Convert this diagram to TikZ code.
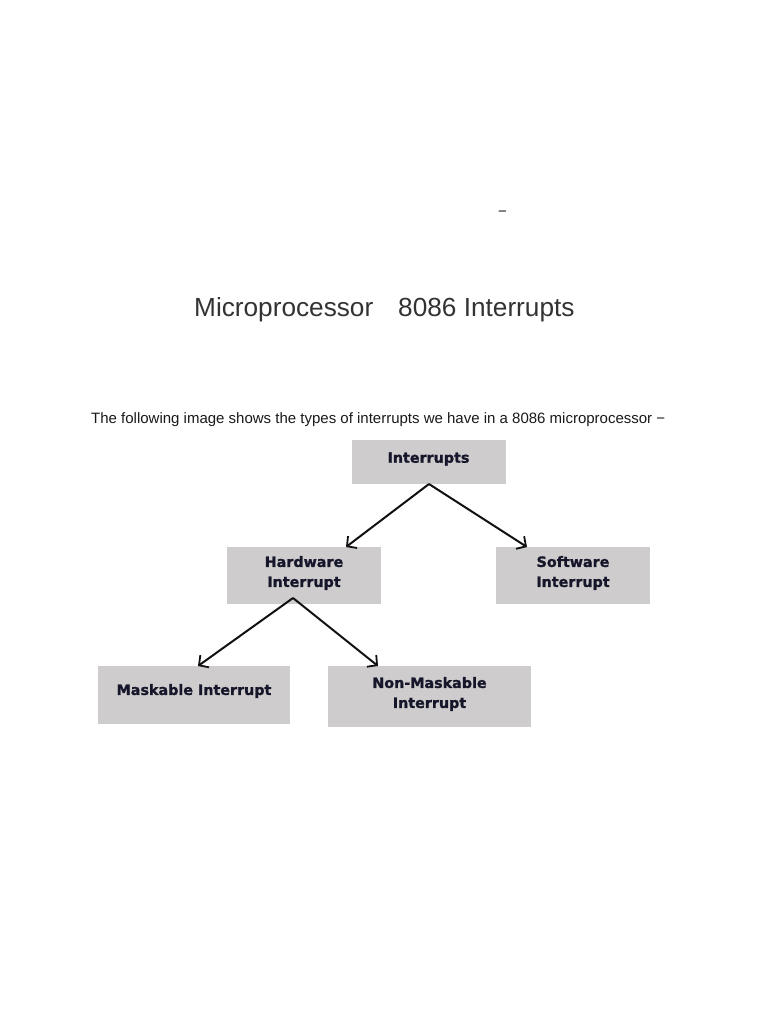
\documentclass[tikz,border=0pt]{standalone}
\usepackage{fontspec}
\setmainfont{Liberation Sans}
\newfontfamily\boxfont{DejaVu Sans}[BoldFeatures={FakeBold=1.2}]
\usetikzlibrary{arrows.meta}
\definecolor{boxgray}{HTML}{CECCCD}
\definecolor{boxtext}{HTML}{16162A}
\definecolor{titlegray}{HTML}{333333}
\definecolor{bodyblack}{HTML}{1A1A1A}
\definecolor{arrowblack}{HTML}{111111}
\begin{document}
\begin{tikzpicture}[x=1pt,y=-1pt,
  graybox/.style={rectangle, fill=boxgray, draw=none, inner sep=0pt},
  boxlabel/.style={inner sep=0pt, align=center, text=boxtext,
    font=\boxfont\bfseries\fontsize{14.3}{20}\selectfont},
  treearrow/.style={draw=arrowblack, line width=2pt,
    -{Straight Barb[length=7pt,width=15pt,line width=1.8pt]}}
]
\useasboundingbox[fill=white] (0,0) rectangle (768,1024);

% texts
\node[inner sep=0pt, anchor=center, text=bodyblack, font=\fontsize{15}{18}\selectfont] (dash) at (502.5,214) {−};
\node[inner sep=0pt, anchor=base west, text=titlegray, font=\fontsize{26.2}{30}\selectfont] (title) at (194,316) {Microprocessor\hspace{25pt}8086 Interrupts};
\node[inner sep=0pt, anchor=base west, text=bodyblack, font=\fontsize{15}{18}\selectfont] (intro) at (91,423) {The following image shows the types of interrupts we have in a 8086 microprocessor −};

% boxes
\node[graybox, minimum width=154pt, minimum height=44pt] (root) at (428.5,462) {};
\node[graybox, minimum width=154pt, minimum height=57pt] (hw) at (304,575.5) {};
\node[graybox, minimum width=154pt, minimum height=57pt] (sw) at (573,575.5) {};
\node[graybox, minimum width=192pt, minimum height=58pt] (mask) at (194,695) {};
\node[graybox, minimum width=203pt, minimum height=61pt] (nmask) at (429.5,696.5) {};

% box labels
\node[boxlabel] (rootT) at (428.5,459) {Interrupts};
\node[boxlabel] (hwT) at (304,573) {Hardware\\Interrupt};
\node[boxlabel] (swT) at (573,573) {Software\\Interrupt};
\node[boxlabel] (maskT) at (194,691) {Maskable Interrupt};
\node[boxlabel] (nmaskT) at (429.5,694) {Non-Maskable\\Interrupt};

% connector end points
\coordinate (rootfork) at (429,484);
\coordinate (hwfork) at (293,598);
\coordinate (hwtip) at (346,547);
\coordinate (swtip) at (527,547);
\coordinate (masktip) at (198,666);
\coordinate (nmasktip) at (378,666);

\draw[treearrow] (rootfork) -- (hwtip);
\draw[treearrow] (rootfork) -- (swtip);
\draw[treearrow] (hwfork) -- (masktip);
\draw[treearrow] (hwfork) -- (nmasktip);
\end{tikzpicture}
\end{document}
